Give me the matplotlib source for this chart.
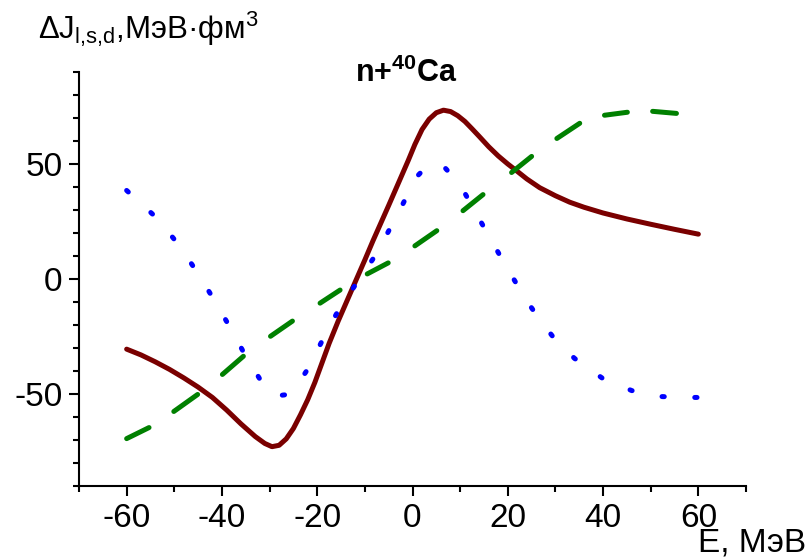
import matplotlib
matplotlib.use("Agg")
import matplotlib.pyplot as plt
from matplotlib.ticker import MultipleLocator

plt.rcParams['font.family'] = ['Liberation Sans', 'DejaVu Sans']
plt.rcParams['axes.unicode_minus'] = False
plt.rcParams['mathtext.fontset'] = 'custom'
plt.rcParams['mathtext.rm'] = 'Liberation Sans'
plt.rcParams['mathtext.it'] = 'Liberation Sans:italic'
plt.rcParams['mathtext.bf'] = 'Liberation Sans:bold'

# dark red solid curve
red_E = [-60, -57, -54, -51, -48, -45, -42, -39, -36, -33, -31, -29.5, -28, -26.5, -25,
         -23.5, -22, -20.5, -19, -17.5, -15.6, -13.5, -10, -8.3, -5, -3, -0.9, 0.5,
         2, 3.5, 5, 6.5, 8, 9.5, 11, 12.5, 14, 16, 18, 20, 22, 24, 26.7, 30, 33, 36,
         40, 45, 50, 55, 60]
red_J = [-30.5, -33, -36, -39.3, -43, -47, -51.5, -57, -63, -68.5, -71.5, -72.9, -72.3, -69.5, -65,
         -59, -52.5, -45, -36.5, -28, -18.3, -8.3, 8.3, 16.6, 32, 41.5, 51.5, 58.5,
         65, 69.5, 72.3, 73.4, 72.8, 71, 68.5, 65.3, 62, 57.5, 53.5, 50, 46.8, 43.5, 39.7, 36.2, 33.4, 31.2,
         28.7, 26.1, 23.8, 21.6, 19.5]

# blue dotted curve
blue_E = [-60, -53.5, -48.9, -45.1, -41.6, -38.2, -35.1, -31.6, -28.5, -26.1, -24, -21.9, -19,
          -16, -12.3, -8.3, -5.1, -2, 0.9, 3, 5, 6.4, 8.5, 10.8, 14.1, 17.3, 20.6, 24, 27,
          30, 34, 39.9, 46, 52, 58.1, 60]
blue_J = [38.5, 26.2, 14.4, 2.6, -9.2, -21.4, -33.2, -45, -50.8, -50.2, -45.5, -38.9, -27,
          -15.3, -3.5, 8.7, 20.5, 32.7, 44.5, 49, 50.2, 49.3, 44.5, 38, 25.8, 14, 2.2, -9.6, -18.5,
          -26.5, -34.5, -43.2, -48.5, -51.1, -51.5, -51.5]

# green dashed curve, read as (start, end) of each dash
green_E = [-60, -55.3, -50.1, -45.1, -39.9, -35.5, -29.8, -25.2, -19.4, -15.2, -9.5, -5.1,
           0.5, 5.1, 10.6, 14.8, 20.8, 25, 30.3, 35.1, 40.3, 45.1, 50.4, 55.4]
green_J = [-69.4, -64.6, -57.6, -50.2, -41.5, -33.6, -24.9, -18.3, -10.5, -4.8, 2.2, 7,
           14.4, 21, 29.7, 36.7, 46.3, 53.3, 61.1, 67.7, 71.2, 72.5, 72.9, 72]

fig = plt.figure(figsize=(8.11, 5.59), dpi=100)
ax = fig.add_axes([79/811, 1-486/559, (746-79)/811, (486-72)/559])

ax.plot(red_E, red_J, color="#7a0000", lw=3.6, solid_capstyle="round", solid_joinstyle="round")
ax.plot(blue_E, blue_J, color="#0000ff", lw=3.6, dashes=(0.45, 6.1), dash_capstyle="round")
for i in range(0, len(green_E), 2):
    ax.plot(green_E[i:i+2], green_J[i:i+2], color="#008000", lw=3.6, solid_capstyle="round")

ax.set_xlim(-70, 70)
ax.set_ylim(-90, 90)
ax.xaxis.set_major_locator(MultipleLocator(20))
ax.xaxis.set_minor_locator(MultipleLocator(10))
ax.yaxis.set_major_locator(MultipleLocator(50))
ax.yaxis.set_minor_locator(MultipleLocator(10))

for s in ["top", "right"]:
    ax.spines[s].set_visible(False)
for s in ["left", "bottom"]:
    ax.spines[s].set_linewidth(1.5)

ax.tick_params(which="major", direction="out", length=7, width=1.5, labelsize=24, pad=5)
ax.tick_params(which="minor", direction="out", length=4.5, width=1.5)

fig.text(38/811, 1-39/559, "ΔJ$_{\\mathrm{l{,}s{,}d}}$,МэВ·фм$^{\\mathrm{3}}$",
         fontsize=22.5, ha="left", va="baseline")
fig.text(406/811, 1-82/559, "n+$^{\\mathbf{40}}$Ca", fontsize=22, fontweight="bold",
         ha="center", va="baseline")
fig.text(806/811, 1-552/559, "E, МэВ", fontsize=24, ha="right", va="baseline")

fig.savefig("out.png", dpi=100)
